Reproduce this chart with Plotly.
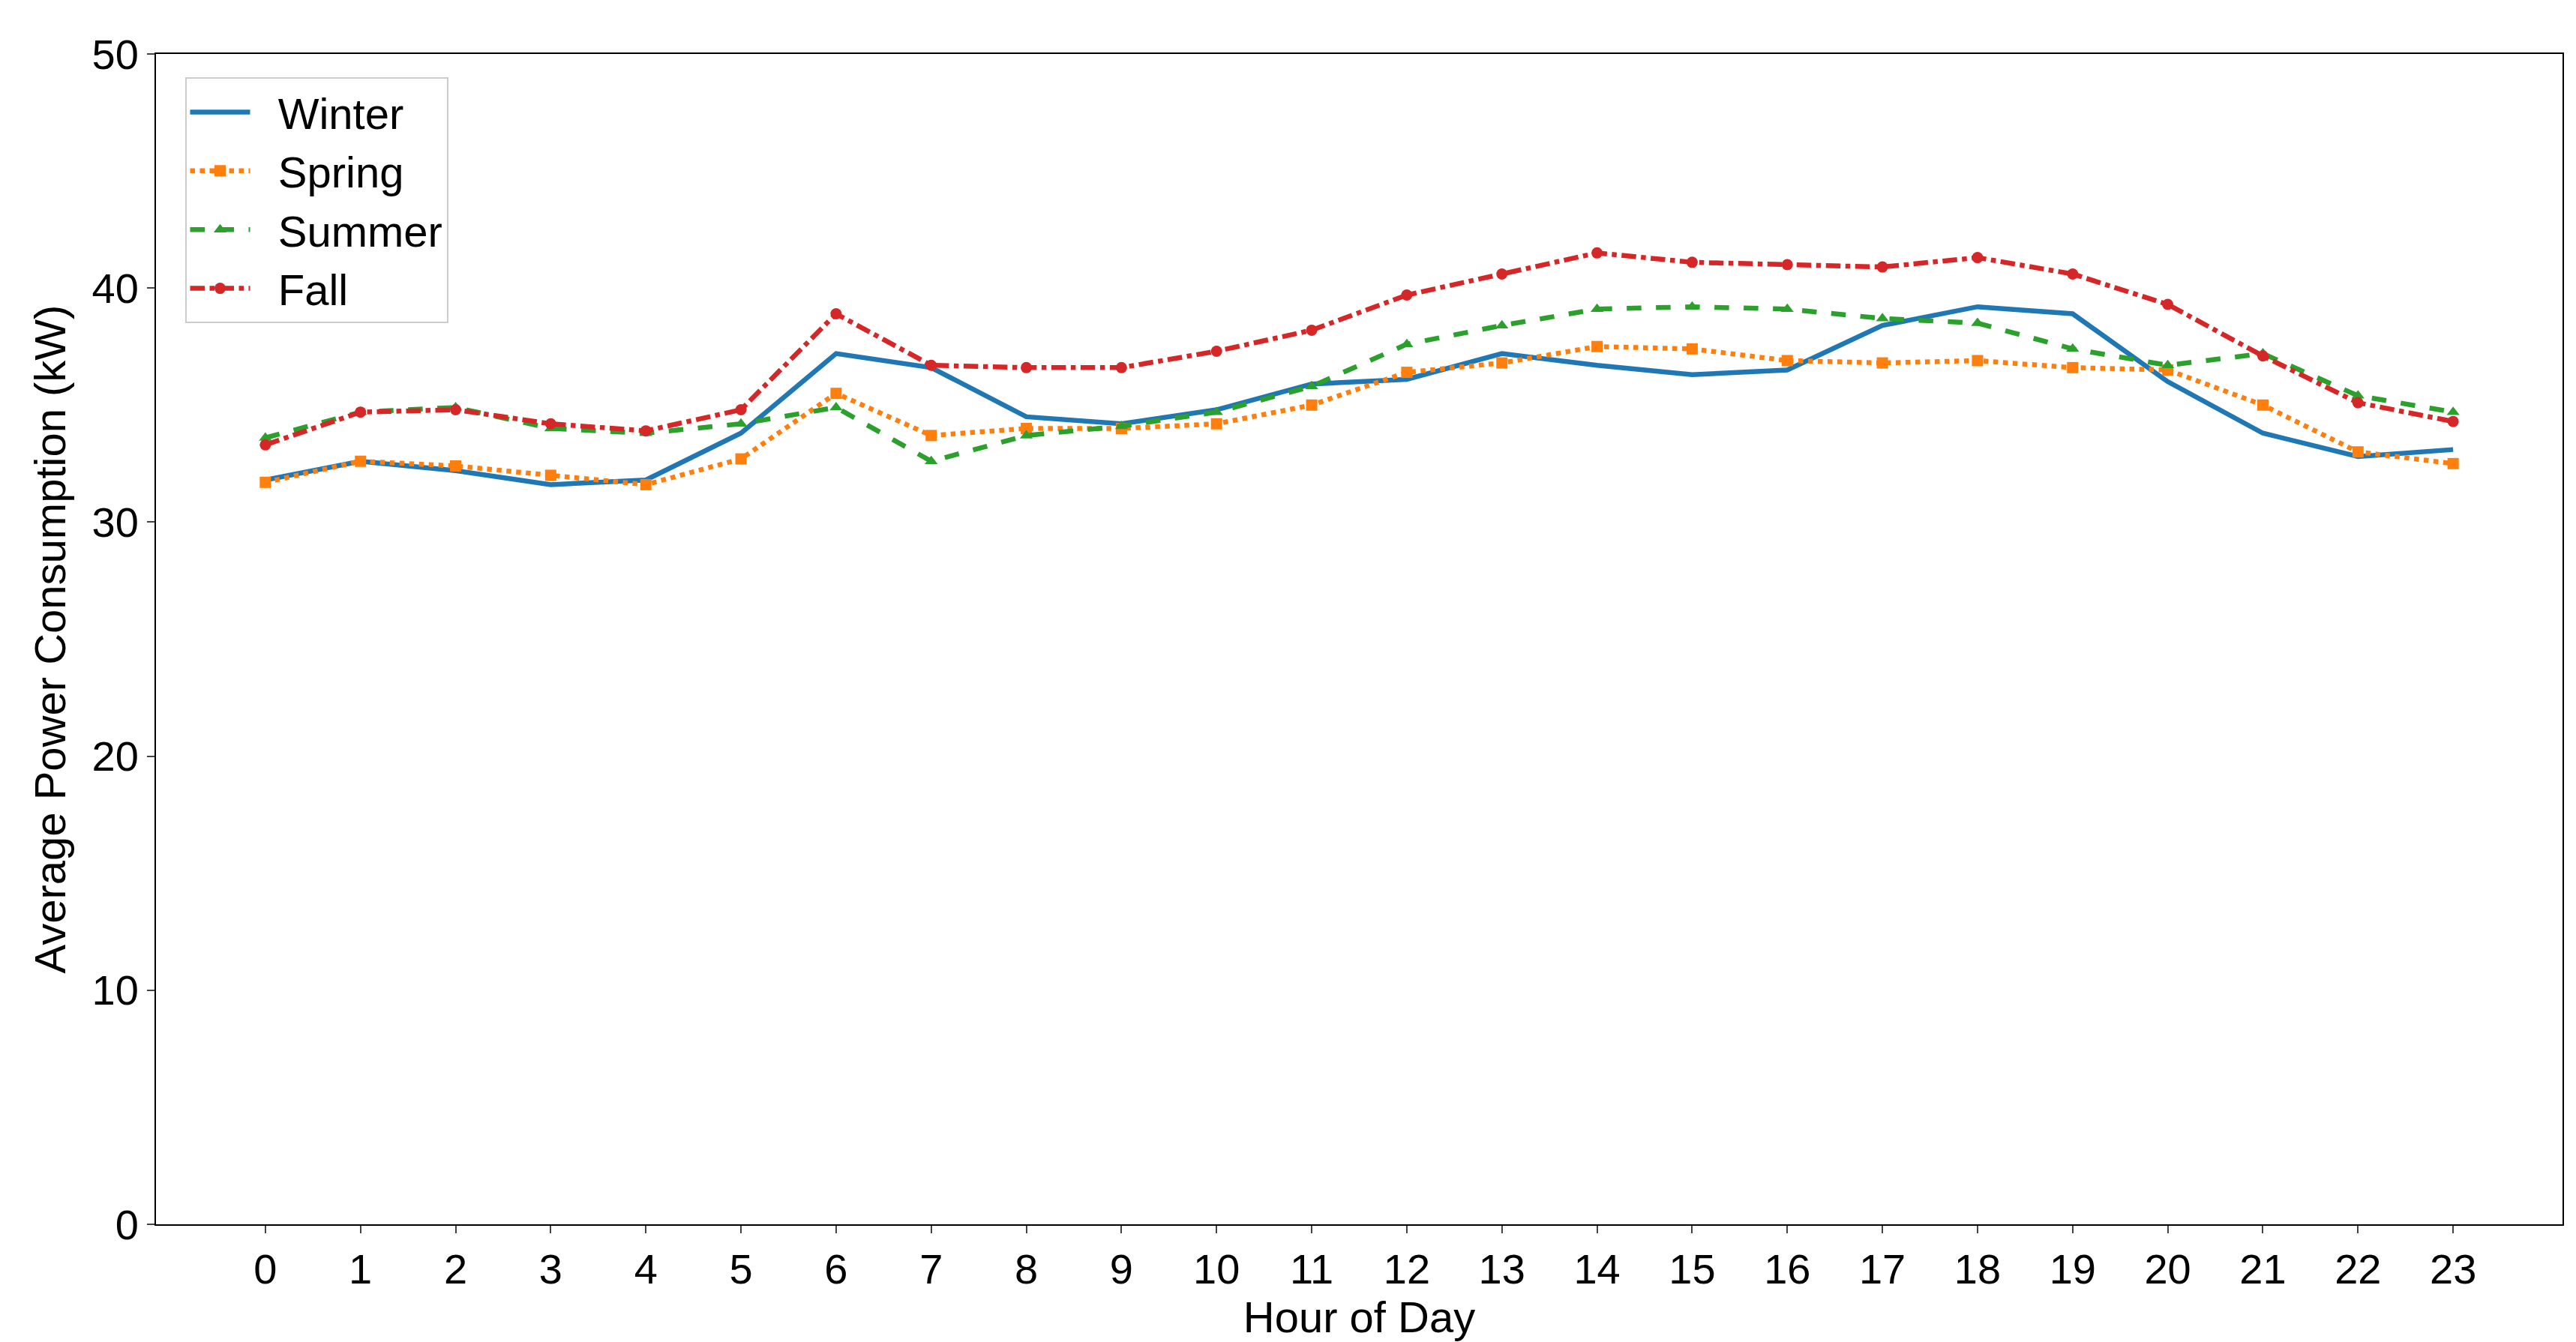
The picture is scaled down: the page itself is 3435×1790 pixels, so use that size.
import plotly.graph_objects as go

hours = list(range(24))
winter = [31.8,32.6,32.2,31.6,31.8,33.8,37.2,36.6,34.5,34.2,34.8,35.9,36.1,37.2,36.7,36.3,36.5,38.4,39.2,38.9,36.0,33.8,32.8,33.1]
spring = [31.7,32.6,32.4,32.0,31.6,32.7,35.5,33.7,34.0,34.0,34.2,35.0,36.4,36.8,37.5,37.4,36.9,36.8,36.9,36.6,36.5,35.0,33.0,32.5]
summer = [33.6,34.7,34.9,34.0,33.8,34.2,34.9,32.6,33.7,34.1,34.7,35.8,37.6,38.4,39.1,39.2,39.1,38.7,38.5,37.4,36.7,37.2,35.4,34.7]
fall = [33.3,34.7,34.8,34.2,33.9,34.8,38.9,36.7,36.6,36.6,37.3,38.2,39.7,40.6,41.5,41.1,41.0,40.9,41.3,40.6,39.3,37.1,35.1,34.3]

fig = go.Figure()
specs = [("Winter", winter, "#1f77b4", "solid", None),
         ("Spring", spring, "#ff7f0e", "dot", "square"),
         ("Summer", summer, "#2ca02c", "dash", "triangle-up"),
         ("Fall", fall, "#d62728", "dashdot", "circle")]
for name, ys, c, dash, sym in specs:
    fig.add_trace(go.Scatter(
        x=hours, y=ys, name="  " + name,
        mode="lines" if sym is None else "lines+markers",
        line=dict(color=c, width=6.5, dash=dash),
        marker=dict(symbol=sym or "circle", size=15, color=c)))

axis = dict(showline=True, linecolor="black", linewidth=2, mirror=True,
            ticks="outside", ticklen=10, tickwidth=2, showgrid=False, zeroline=False,
            tickfont=dict(size=56, color="black"))
fig.update_layout(
    width=3435, height=1790,
    paper_bgcolor="white", plot_bgcolor="white",
    font=dict(family="Liberation Sans, Arial", size=56, color="black"),
    margin=dict(l=200, r=26, t=64, b=165),
    xaxis=dict(axis, range=[-1.15, 24.15], tickmode="array", tickvals=hours,
               title=dict(text="Hour of Day", font=dict(size=58), standoff=8)),
    yaxis=dict(axis, range=[0, 50], tickvals=[0,10,20,30,40,50],
               title=dict(text="Average Power Consumption (kW)", font=dict(size=58), standoff=16)),
    legend=dict(x=0.012, y=0.98, xanchor="left", yanchor="top",
                bordercolor="#cccccc", borderwidth=2, bgcolor="white",
                font=dict(size=58), itemwidth=80, tracegroupgap=10),
)
fig.write_html("out.html")
